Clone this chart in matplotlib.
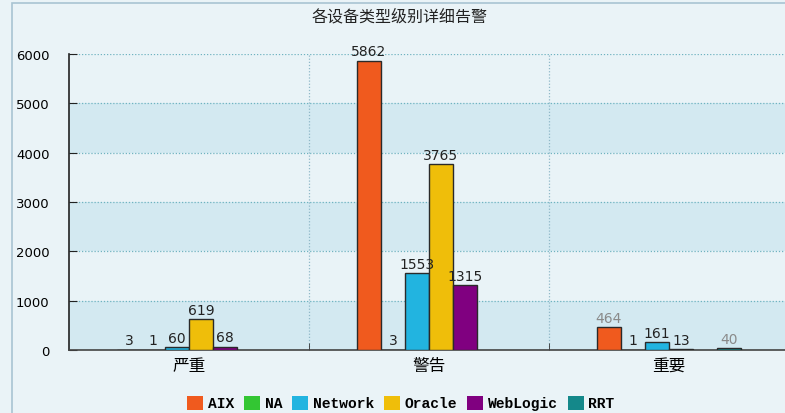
import numpy as np
import matplotlib
matplotlib.use("Agg")
import matplotlib.pyplot as plt
from matplotlib.patches import Rectangle, Patch

plt.rcParams['font.family'] = ['Noto Sans CJK SC', 'DejaVu Sans']

title = "各设备类型级别详细告警"
categories = ["严重", "警告", "重要"]
series = ["AIX", "NA", "Network", "Oracle", "WebLogic", "RRT"]
aix = [3, 5862, 464]
na = [1, 3, 1]
network = [60, 1553, 161]
oracle = [619, 3765, 13]
weblogic = [68, 1315, np.nan]
rrt = [np.nan, np.nan, 40]
colors = ["#f05a1e", "#33c633", "#22b4e0", "#efbe0a", "#800080", "#14888a"]
yticks = [0, 1000, 2000, 3000, 4000, 5000, 6000]

data = [aix, na, network, oracle, weblogic, rrt]

fig = plt.figure(figsize=(7.85, 4.14), dpi=100)
fig.patch.set_facecolor("#eaf3f7")
fig.patches.append(Rectangle((12/785, -0.1), 1.0, (414-4)/414 + 0.1, transform=fig.transFigure,
                             fill=False, edgecolor="#a9c4d2", linewidth=1.2))

ax = fig.add_axes([69/785, 63/414, 720/785, 296/414])
ax.set_facecolor("#eaf3f7")
ax.set_xlim(-0.5, 2.5)
ax.set_ylim(0, 6000)

for i in range(6):
    ax.axhspan(i*1000, (i+1)*1000, color="#d3e9f1" if i % 2 == 0 else "#e9f3f7", zorder=0, lw=0)

for y in yticks[1:]:
    ax.axhline(y, color="#6fb3c0", linestyle=(0, (1, 1.5)), lw=0.9, zorder=1)
for xb in [0.5, 1.5]:
    ax.axvline(xb, color="#8fb8c8", linestyle=(0, (1, 1.5)), lw=0.9, zorder=1)

w = 0.1
x = np.arange(len(categories))
gray_labels = {(0, 2), (5, 2)}
for i, (name, vals, c) in enumerate(zip(series, data, colors)):
    xs = x + (i - 2.5) * w
    vals = np.array(vals, dtype=float)
    ax.bar(xs, vals, width=w, color=c, edgecolor="#2a2a2a", linewidth=1.0, zorder=3, label=name)
    for j, v in enumerate(vals):
        if np.isnan(v):
            continue
        col = "#8a8a8a" if (i, j) in gray_labels else "#222222"
        ax.text(xs[j], v + 50, f"{int(v)}", ha="center", va="bottom", fontsize=10,
                color=col, family="DejaVu Sans", zorder=4)

ax.set_xticks(x)
ax.set_xticklabels(categories, fontsize=12)
ax.tick_params(axis="x", length=0, pad=5)
ax.set_xticks([0.5, 1.5], minor=True)
ax.tick_params(axis="x", which="minor", direction="in", length=5, color="#333333")
ax.set_yticks(yticks)
ax.set_yticklabels([str(t) for t in yticks], fontsize=9.5, family="DejaVu Sans")
ax.tick_params(axis="y", direction="in", length=6, color="#222222", pad=14)

for s in ["top", "right"]:
    ax.spines[s].set_visible(False)
ax.spines["left"].set_color("#222222")
ax.spines["left"].set_linewidth(1.2)
ax.spines["bottom"].set_color("#444444")
ax.spines["bottom"].set_linewidth(1.2)

fig.text(400/785, 1 - 17/414, title, ha="center", va="center", fontsize=11.5, color="#222222")

handles = [Patch(facecolor=c, edgecolor="none") for c in colors]
leg = fig.legend(handles, series, loc="center", bbox_to_anchor=(401/785, 1 - 404/414), ncol=6,
                 frameon=False, handlelength=1.1, handleheight=1.1, handletextpad=0.3,
                 columnspacing=0.7, prop={"family": "Liberation Mono", "weight": "bold", "size": 10.5})

fig.savefig("out.png", dpi=100, facecolor=fig.get_facecolor())
